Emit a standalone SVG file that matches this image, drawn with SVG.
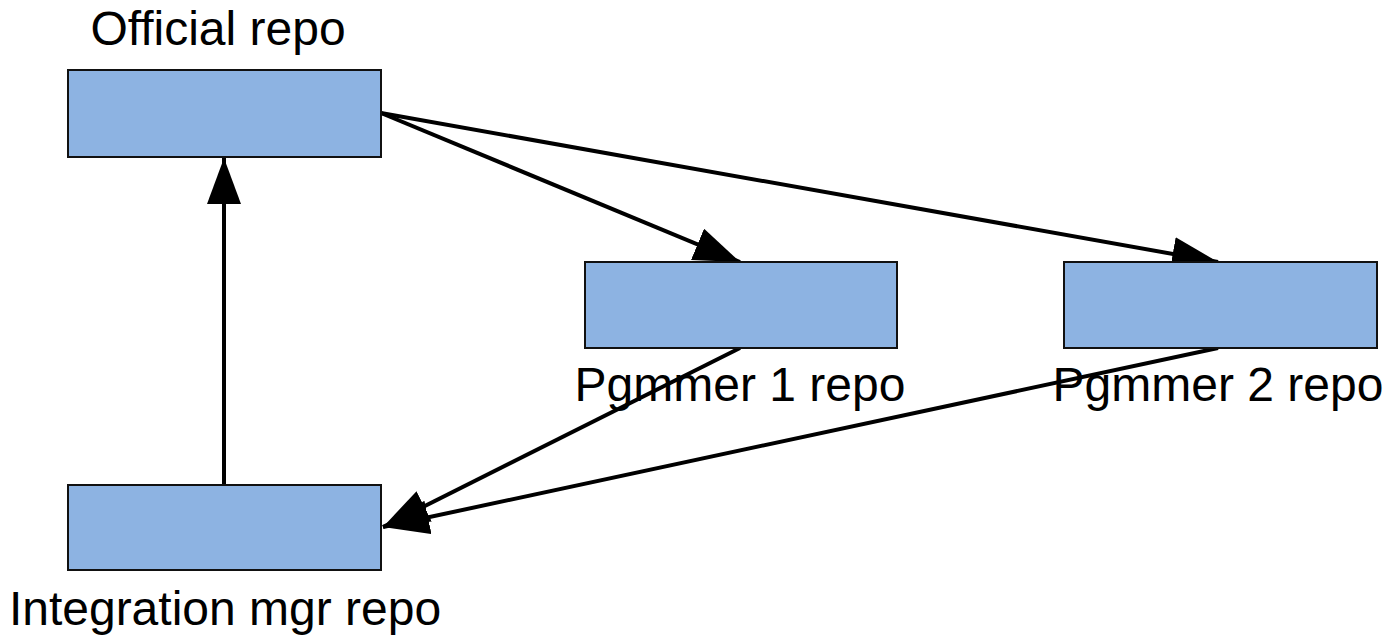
<svg xmlns="http://www.w3.org/2000/svg" width="1390" height="637" viewBox="0 0 1390 637">
<style>
.box{fill:#8db3e2;stroke:#111;stroke-width:2}
.lbl{font-family:"Liberation Sans",Arial,sans-serif;font-size:48px;fill:#000;text-anchor:middle}
.edge{stroke:#000;stroke-width:4;fill:none;marker-end:url(#ah)}
</style>
<defs>
<marker id="ah" markerUnits="userSpaceOnUse" markerWidth="48" markerHeight="36" refX="46" refY="17" orient="auto">
<path d="M0,0 L46,17 L0,34 Z" fill="#000"/>
</marker>
</defs>
<rect width="1390" height="637" fill="#fff"/>
<g id="connectors">
<line class="edge" x1="224" y1="485" x2="224" y2="158"/>
<line class="edge" x1="381" y1="113" x2="740" y2="262"/>
<line class="edge" x1="381" y1="113" x2="1218" y2="262"/>
<line class="edge" x1="740" y1="348" x2="383" y2="527"/>
<line class="edge" x1="1218" y1="348" x2="383" y2="527"/>
</g>
<g id="official">
<rect class="box" x="68" y="70" width="313" height="87"/>
<text class="lbl" x="218" y="45">Official repo</text>
</g>
<g id="pgmmer1">
<rect class="box" x="585" y="262" width="312" height="86"/>
<text class="lbl" x="740" y="401">Pgmmer 1 repo</text>
</g>
<g id="pgmmer2">
<rect class="box" x="1064" y="262" width="313" height="86"/>
<text class="lbl" x="1218" y="401">Pgmmer 2 repo</text>
</g>
<g id="integration">
<rect class="box" x="68" y="485" width="313" height="85"/>
<text class="lbl" x="225" y="625">Integration mgr repo</text>
</g>
</svg>
